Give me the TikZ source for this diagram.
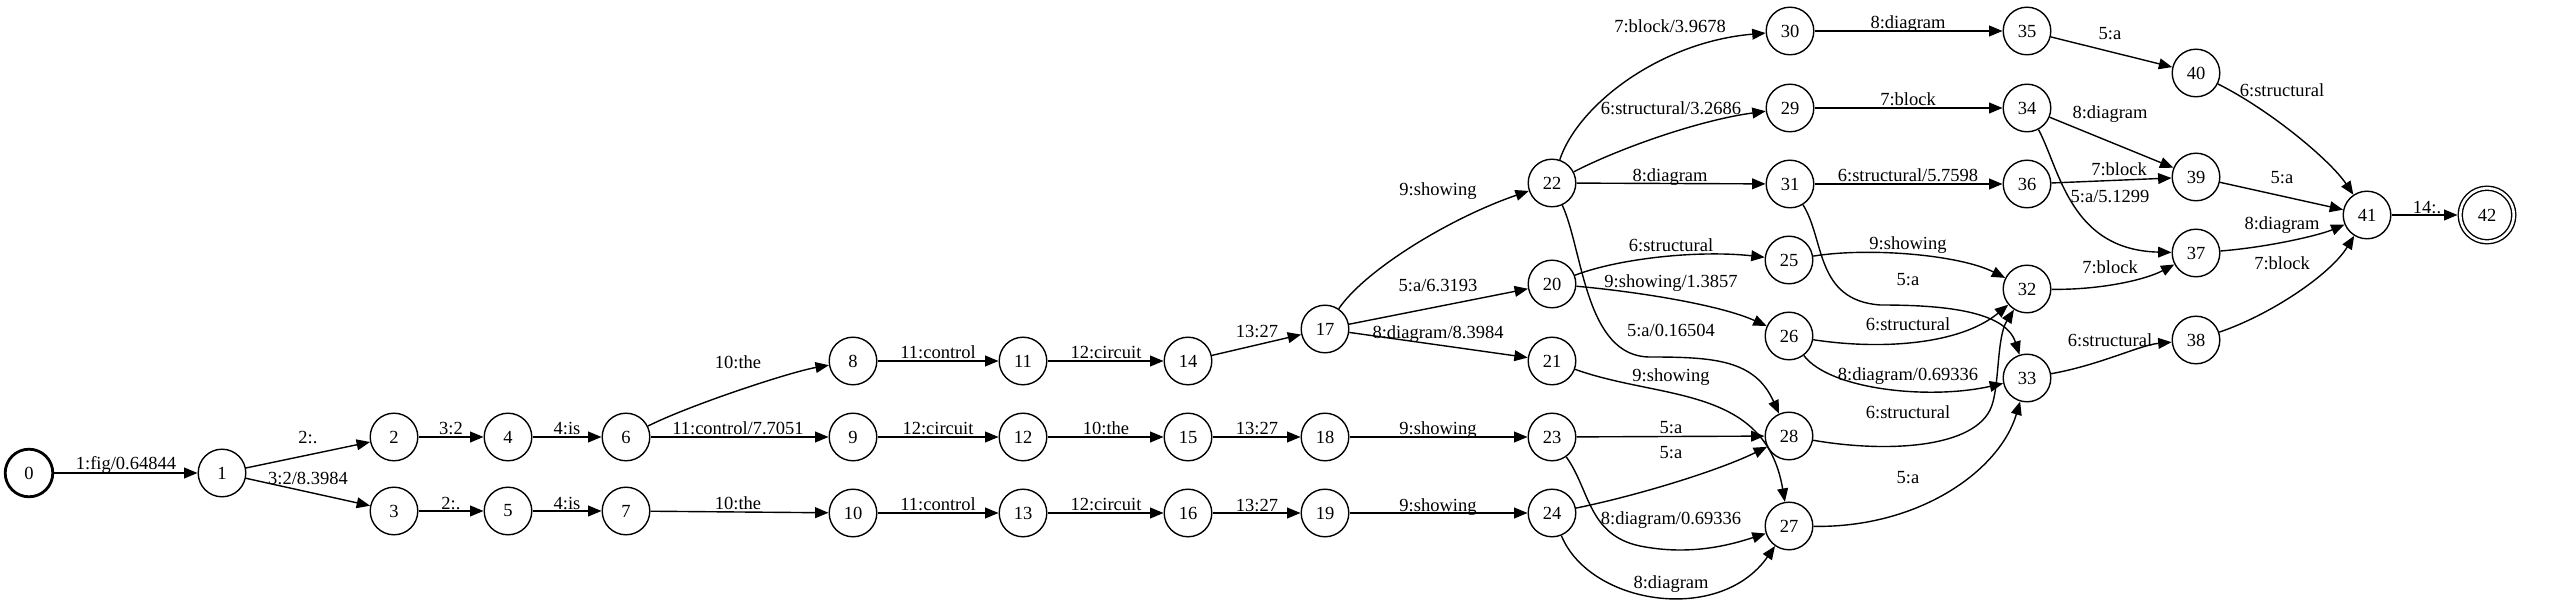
\documentclass[tikz,border=0pt]{standalone}
\usepackage{fontspec}
\setmainfont{Liberation Serif}
\usepackage{tikz}
\usetikzlibrary{arrows.meta}
\tikzset{
  trhead/.style={>={Triangle[length=6.7pt,width=5.4pt]}},
  tr/.style={line width=.7pt,trhead,->},
  st/.style={circle,draw,line width=.7pt,minimum size=23.8pt,inner sep=0pt},
  stinit/.style={st,line width=1.4pt},
  stfinal/.style={st,minimum size=26.8pt,double,double distance=1.3pt},
  lb/.style={inner sep=0pt,text height=.66em,text depth=0pt},
}
\begin{document}
\begin{tikzpicture}[x=.5pt,y=-.5pt,font=\fontsize{9.25}{11}\selectfont]
	\useasboundingbox (0,0) rectangle (2550,614);
	\node[stinit] (n0) at (29,473) {0};
	\node[st] (n1) at (222,473) {1};
	\node[st] (n2) at (394,437) {2};
	\node[st] (n3) at (394,511) {3};
	\node[st] (n4) at (508,437) {4};
	\node[st] (n5) at (508,511) {5};
	\node[st] (n6) at (626,437) {6};
	\node[st] (n7) at (626,511) {7};
	\node[st] (n8) at (853,361) {8};
	\node[st] (n9) at (853,437) {9};
	\node[st] (n10) at (853,513) {10};
	\node[st] (n11) at (1023,361) {11};
	\node[st] (n12) at (1023,437) {12};
	\node[st] (n13) at (1023,513) {13};
	\node[st] (n14) at (1188,361) {14};
	\node[st] (n15) at (1188,437) {15};
	\node[st] (n16) at (1188,513) {16};
	\node[st] (n17) at (1325,329) {17};
	\node[st] (n18) at (1325,437) {18};
	\node[st] (n19) at (1325,513) {19};
	\node[st] (n20) at (1552,284) {20};
	\node[st] (n21) at (1552,361) {21};
	\node[st] (n22) at (1552,183) {22};
	\node[st] (n23) at (1552,437) {23};
	\node[st] (n24) at (1552,513) {24};
	\node[st] (n25) at (1789,260) {25};
	\node[st] (n26) at (1789,336) {26};
	\node[st] (n27) at (1789,526) {27};
	\node[st] (n28) at (1789,436) {28};
	\node[st] (n29) at (1790,108) {29};
	\node[st] (n30) at (1790,31) {30};
	\node[st] (n31) at (1790,184) {31};
	\node[st] (n32) at (2027,289) {32};
	\node[st] (n33) at (2027,378) {33};
	\node[st] (n34) at (2027,108) {34};
	\node[st] (n35) at (2027,31) {35};
	\node[st] (n36) at (2027,184) {36};
	\node[st] (n37) at (2196,253) {37};
	\node[st] (n38) at (2196,340) {38};
	\node[st] (n39) at (2196,177) {39};
	\node[st] (n40) at (2196,73) {40};
	\node[st] (n41) at (2367,215) {41};
	\node[stfinal] (n42) at (2487,215) {42};
	\draw[tr] (n0) -- (n1) node[lb] at (126,463) {1:fig/0.64844};
	\draw[tr] (n1) -- (n2) node[lb] at (308,437) {2:.};
	\draw[tr] (n1) -- (n3) node[lb] at (308,478) {3:2/8.3984};
	\draw[tr] (n2) -- (n4) node[lb] at (451,428) {3:2};
	\draw[tr] (n3) -- (n5) node[lb] at (451,503) {2:.};
	\draw[tr] (n4) -- (n6) node[lb] at (567,428) {4:is};
	\draw[tr] (n5) -- (n7) node[lb] at (567,503) {4:is};
	\draw[tr] (n6) .. controls (690,405) and (790,372) .. (n8) node[lb] at (738,362) {10:the};
	\draw[tr] (n6) -- (n9) node[lb] at (738,428) {11:control/7.7051};
	\draw[tr] (n7) -- (n10) node[lb] at (738,503) {10:the};
	\draw[tr] (n8) -- (n11) node[lb] at (938,352) {11:control};
	\draw[tr] (n9) -- (n12) node[lb] at (938,428) {12:circuit};
	\draw[tr] (n10) -- (n13) node[lb] at (938,504) {11:control};
	\draw[tr] (n11) -- (n14) node[lb] at (1106,352) {12:circuit};
	\draw[tr] (n12) -- (n15) node[lb] at (1106,428) {10:the};
	\draw[tr] (n13) -- (n16) node[lb] at (1106,504) {12:circuit};
	\draw[tr] (n14) -- (n17) node[lb] at (1257,331) {13:27};
	\draw[tr] (n15) -- (n18) node[lb] at (1257,428) {13:27};
	\draw[tr] (n16) -- (n19) node[lb] at (1257,505) {13:27};
	\draw[tr] (n17) .. controls (1365,270) and (1450,218) .. (n22) node[lb] at (1438,189) {9:showing};
	\draw[tr] (n17) -- (n20) node[lb] at (1438,285) {5:a/6.3193};
	\draw[tr] (n17) -- (n21) node[lb] at (1438,332) {8:diagram/8.3984};
	\draw[tr] (n18) -- (n23) node[lb] at (1438,428) {9:showing};
	\draw[tr] (n19) -- (n24) node[lb] at (1438,505) {9:showing};
	\draw[tr] (n22) .. controls (1578,105) and (1660,42) .. (n30) node[lb] at (1670,26) {7:block/3.9678};
	\draw[tr] (n22) .. controls (1620,148) and (1700,120) .. (n29) node[lb] at (1671,108) {6:structural/3.2686};
	\draw[tr] (n22) -- (n31) node[lb] at (1670,175) {8:diagram};
	\draw[tr] (n22) .. controls (1583,250) and (1585,357) .. (1650,357) .. controls (1715,357) and (1755,360) .. (n28) node[lb] at (1671,330) {5:a/0.16504};
	\draw[tr] (n20) .. controls (1620,258) and (1700,250) .. (n25) node[lb] at (1671,245) {6:structural};
	\draw[tr] (n20) .. controls (1640,292) and (1720,305) .. (n26) node[lb] at (1671,281) {9:showing/1.3857};
	\draw[tr] (n21) .. controls (1660,400) and (1765,385) .. (n27) node[lb] at (1671,375) {9:showing};
	\draw[tr] (n23) -- (n28) node[lb] at (1671,427) {5:a};
	\draw[tr] (n24) .. controls (1640,495) and (1720,470) .. (n28) node[lb] at (1671,452) {5:a};
	\draw[tr] (n23) .. controls (1590,490) and (1588,535) .. (1640,546) .. controls (1690,556) and (1730,545) .. (n27) node[lb] at (1671,518) {8:diagram/0.69336};
	\draw[tr] (n24) .. controls (1590,605) and (1720,625) .. (n27) node[lb] at (1671,582) {8:diagram};
	\draw[tr] (n30) -- (n35) node[lb] at (1908,22) {8:diagram};
	\draw[tr] (n29) -- (n34) node[lb] at (1908,99) {7:block};
	\draw[tr] (n31) -- (n36) node[lb] at (1908,175) {6:structural/5.7598};
	\draw[tr] (n25) .. controls (1870,247) and (1960,255) .. (n32) node[lb] at (1908,243) {9:showing};
	\draw[tr] (n31) .. controls (1825,240) and (1815,300) .. (1880,305) .. controls (1940,305) and (2005,310) .. (n33) node[lb] at (1908,279) {5:a};
	\draw[tr] (n26) .. controls (1880,350) and (1960,345) .. (n32) node[lb] at (1908,324) {6:structural};
	\draw[tr] (n26) .. controls (1830,390) and (1930,400) .. (n33) node[lb] at (1908,374) {8:diagram/0.69336};
	\draw[tr] (n28) .. controls (1880,452) and (1970,450) .. (1990,410) .. controls (2000,390) and (1996,338) .. (n32) node[lb] at (1908,412) {6:structural};
	\draw[tr] (n27) .. controls (1920,528) and (2000,470) .. (n33) node[lb] at (1908,477) {5:a};
	\draw[tr] (n35) -- (n40) node[lb] at (2110,33) {5:a};
	\draw[tr] (n34) -- (n39) node[lb] at (2110,112) {8:diagram};
	\draw[tr] (n36) -- (n39) node[lb] at (2119,169) {7:block};
	\draw[tr] (n34) .. controls (2060,170) and (2070,250) .. (n37) node[lb] at (2110,196) {5:a/5.1299};
	\draw[tr] (n32) .. controls (2100,290) and (2145,280) .. (n37) node[lb] at (2110,267) {7:block};
	\draw[tr] (n33) .. controls (2100,365) and (2140,345) .. (n38) node[lb] at (2110,340) {6:structural};
	\draw[tr] (n40) .. controls (2270,110) and (2330,160) .. (n41) node[lb] at (2282,90) {6:structural};
	\draw[tr] (n39) -- (n41) node[lb] at (2282,177) {5:a};
	\draw[tr] (n37) .. controls (2270,247) and (2320,235) .. (n41) node[lb] at (2282,223) {8:diagram};
	\draw[tr] (n38) .. controls (2270,315) and (2330,275) .. (n41) node[lb] at (2282,263) {7:block};
	\draw[tr,shorten >=1pt] (n41) -- (n42) node[lb] at (2427,207) {14:.};
\end{tikzpicture}
\end{document}
